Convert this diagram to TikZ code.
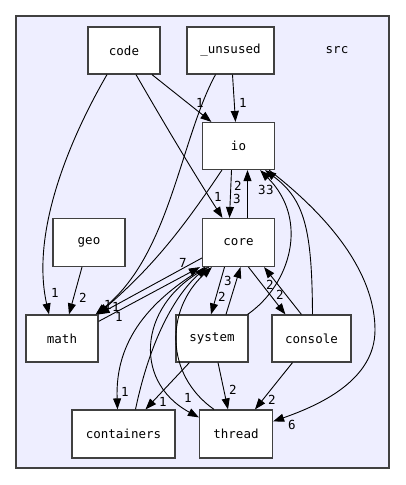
\documentclass[tikz,border=0pt]{standalone}
\usepackage{fontspec}
\setmonofont{DejaVu Sans Mono}
\usetikzlibrary{arrows.meta,calc}
\definecolor{clfill}{HTML}{EEEEFF}
\definecolor{bord}{HTML}{404040}
\begin{document}
\begin{tikzpicture}[x=1pt,y=-1pt,
  every node/.style={font=\ttfamily\fontsize{12.5}{14}\selectfont},
  box/.style={draw=bord, line width=1.2pt, fill=white, inner sep=0pt, minimum width=72pt, minimum height=47pt},
  lbl/.style={inner sep=0pt, font=\ttfamily\fontsize{12.5}{14}\selectfont},
  edge/.style={draw=black, line width=0.9pt, -{Triangle[length=11pt,width=8pt]}},
  cluster/.style={draw=bord, line width=1.2pt, fill=clfill}]
\useasboundingbox (0,0) rectangle (405,485);
\path[cluster] (16,16) rectangle (389,468);
\node (srclbl) at (337,50) {src};

\node[box] (code) at (124,50.5) {code};
\node[box, minimum width=87pt] (unused) at (230.5,50.5) {\_unsused};
\node[box] (io) at (238.5,146) {io};
\node[box, minimum height=48pt] (core) at (238.5,242.5) {core};
\node[box, minimum height=48pt] (geo) at (89,242.5) {geo};
\node[box] (math) at (62,338.5) {math};
\node[box] (system) at (212,338.5) {system};
\node[box, minimum width=79pt] (console) at (311.5,338.5) {console};
\node[box, minimum width=103pt, minimum height=48pt] (containers) at (123.5,434) {containers};
\node[box, minimum width=73pt, minimum height=48pt] (thread) at (236,434) {thread};

% edges
\draw[edge] ($(code.south)+(-17,0)$) .. controls (72,135) and (30,230) .. ($(math.north)+(-13,0)$);
\draw[edge] ($(code.south)+(28,0)$) -- ($(io.north west)+(9.5,0)$);
\draw[edge] ($(code.south)+(12,0)$) .. controls (165,125) and (195,175) .. ($(core.north)+(-16,0)$);
\draw[edge] ($(unused.south)+(2,0)$) -- ($(io.north)+(-3,0)$);
\draw[edge] ($(unused.south)+(-15,0)$) .. controls (180,140) and (170,255) .. ($(math.north east)+(-3,0)$);
\draw[edge] ($(io.south west)+(20,0)$) .. controls (185,225) and (155,265) .. ($(math.north east)+(-1,0)$);
\draw[edge] ($(core.west)+(0,15.5)$) -- ($(math.north east)+(0,0)$);
\draw[edge] ($(math.north east)+(0,7)$) -- ($(core.south west)+(-2,0)$);
\draw[edge] ($(io.south)+(-7,0)$) -- ($(core.north)+(-9,0)$);
\draw[edge] ($(core.north)+(9,0)$) -- ($(io.south)+(9,0)$);
\draw[edge] ($(system.north east)+(-1,0)$) .. controls (290,285) and (310,220) .. ($(io.south east)+(-15,0)$);
\draw[edge] ($(console.north)+(1,0)$) .. controls (312,230) and (305,200) .. ($(io.south east)+(-10,0)$);
\draw[edge] ($(io.south east)+(-6,0)$) .. controls (340,225) and (375,280) .. (375,330) .. controls (375,380) and (320,405) .. ($(thread.north east)+(0,12)$);
\draw[edge] ($(core.south)+(-14,0)$) -- ($(system.north)+(-1,0)$);
\draw[edge] ($(system.north)+(14,0)$) -- ($(core.south)+(2,0)$);
\draw[edge] ($(core.south)+(10,0)$) -- ($(console.north west)+(14,0)$);
\draw[edge] ($(console.north west)+(30,0)$) -- ($(core.south east)+(-11,0)$);
\draw[edge] ($(core.south west)+(3,0)$) .. controls (150,300) and (115,340) .. ($(containers.north)+(-6,0)$);
\draw[edge] ($(containers.north)+(12,0)$) .. controls (150,340) and (175,295) .. ($(core.south west)+(5,0)$);
\draw[edge] ($(core.south west)+(7,0)$) .. controls (140,300) and (130,380) .. ($(thread.north west)+(0,8)$);
\draw[edge] ($(thread.north)+(-22,0)$) .. controls (165,375) and (165,310) .. ($(core.south west)+(10,0)$);
\draw[edge] ($(system.south west)+(14,0)$) -- ($(containers.north)+(22,0)$);
\draw[edge] ($(system.south)+(6,0)$) -- ($(thread.north)+(-8,0)$);
\draw[edge] ($(console.south)+(-19,0)$) -- ($(thread.north)+(19,0)$);
\draw[edge] ($(geo.south)+(-7,0)$) -- ($(math.north)+(7,0)$);

% labels
\node[lbl] (l1) at (55,293) {1};
\node[lbl] (l2) at (200,103) {1};
\node[lbl] (l3) at (243,103) {1};
\node[lbl] (l4) at (218,197) {1};
\node[lbl] (l5) at (238,186) {2};
\node[lbl] (l6) at (237,199) {3};
\node[lbl] (l7) at (262,190) {3};
\node[lbl] (l8) at (270,190) {3};
\node[lbl] (l9) at (183,263) {7};
\node[lbl] (l10) at (108,305) {1};
\node[lbl] (l11) at (116,307) {1};
\node[lbl] (l12) at (119,317) {1};
\node[lbl] (l13) at (83,298) {2};
\node[lbl] (l14) at (228,281) {3};
\node[lbl] (l15) at (222,297) {2};
\node[lbl] (l16) at (270,285) {2};
\node[lbl] (l17) at (280,295) {2};
\node[lbl] (l18) at (125,392) {1};
\node[lbl] (l19) at (188,398) {1};
\node[lbl] (l20) at (163,402) {1};
\node[lbl] (l21) at (233,390) {2};
\node[lbl] (l22) at (272,400) {2};
\node[lbl] (l23) at (292,425) {6};
\end{tikzpicture}
\end{document}
